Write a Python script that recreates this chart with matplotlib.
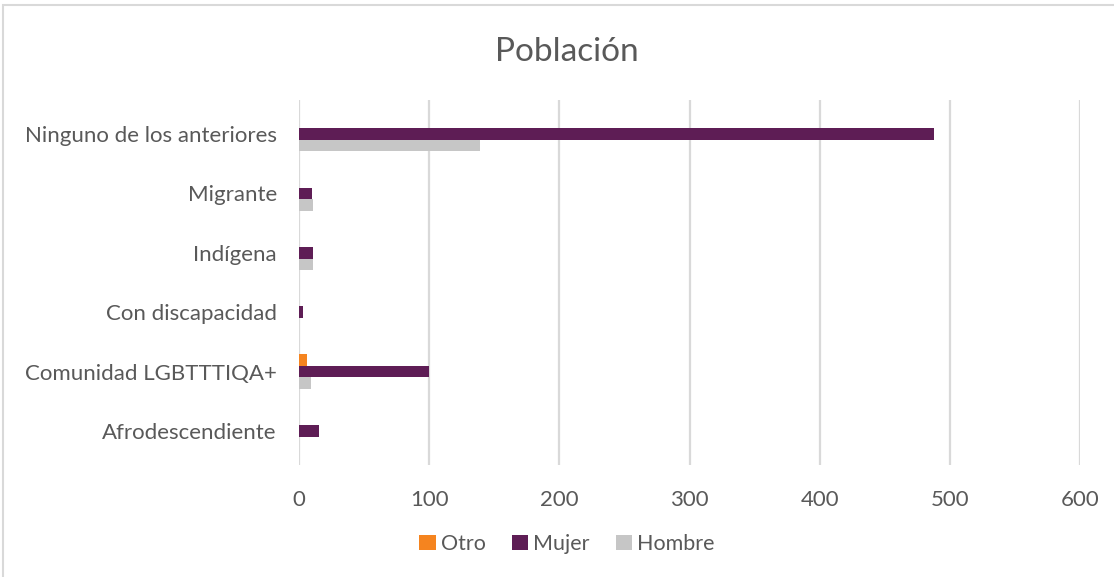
import matplotlib.pyplot as plt
from matplotlib.patches import Rectangle
import numpy as np

plt.rcParams['font.family'] = ['Lato', 'DejaVu Sans']

categories = ['Afrodescendiente', 'Comunidad LGBTTTIQA+', 'Con discapacidad',
              'Indígena', 'Migrante', 'Ninguno de los anteriores']
otro = [0, 6, 0, 0, 0, 0]
mujer = [15, 100, 3, 11, 10, 488]
hombre = [0, 9, 0, 11, 11, 139]
x_ticks = [0, 100, 200, 300, 400, 500, 600]

c_otro = '#F5841F'
c_mujer = '#5E1D55'
c_hombre = '#C6C6C6'
txt = '#595959'

fig = plt.figure(figsize=(11.14, 5.77), dpi=100)
fig.patches.append(Rectangle((3 / 1114, -0.01), 1.0, (577 - 5) / 577 + 0.01,
                             transform=fig.transFigure, fill=False,
                             ec='#D9D9D9', lw=1.5))
ax = fig.add_axes([299 / 1114, (577 - 465) / 577, (1080 - 299) / 1114, 365 / 577])

y = np.arange(len(categories))
h = 0.195
ax.barh(y + h, otro, height=h, color=c_otro, label='Otro', zorder=3)
ax.barh(y, mujer, height=h, color=c_mujer, label='Mujer', zorder=3)
ax.barh(y - h, hombre, height=h, color=c_hombre, label='Hombre', zorder=3)

ax.set_xlim(0, 600)
ax.set_ylim(-0.57, 5.57)
ax.set_xticks(x_ticks)
ax.set_yticks(y)
ax.set_yticklabels(categories)
ax.tick_params(axis='both', length=0, labelsize=16, colors=txt)
ax.tick_params(axis='x', pad=18)
ax.tick_params(axis='y', pad=16)
ax.grid(axis='x', color='#D9D9D9', lw=1.6, zorder=0)
for s in ax.spines.values():
    s.set_visible(False)

fig.text(567 / 1114, 1 - 52 / 577, 'Población', ha='center', va='center',
         fontsize=24, color=txt)

handles, labels = ax.get_legend_handles_labels()
fig.legend(handles, labels, loc='center', bbox_to_anchor=(567 / 1114, 1 - 544 / 577),
           ncol=3, frameon=False, fontsize=15.5, labelcolor=txt,
           handlelength=0.75, handleheight=0.75, handletextpad=0.25, columnspacing=1.2)

fig.savefig('out.png', dpi=100)
